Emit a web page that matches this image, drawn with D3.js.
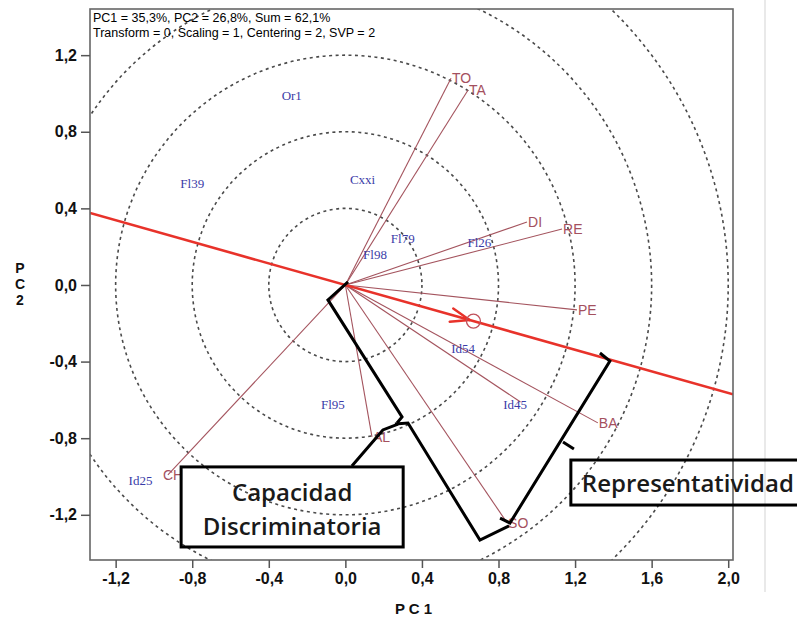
<!DOCTYPE html>
<html><head><meta charset="utf-8">
<script src="https://cdn.jsdelivr.net/npm/d3@7"></script>
<style>
body{margin:0;background:#fff;}
svg{display:block;}
</style></head>
<body>
<svg id="chart" width="797" height="624"></svg>
<script>
// ---- data ----
const xTicks = [-1.2, -0.8, -0.4, 0.0, 0.4, 0.8, 1.2, 1.6, 2.0];
const yTicks = [-1.2, -0.8, -0.4, 0.0, 0.4, 0.8, 1.2];
const circleRadii = [0.4, 0.8, 1.2, 1.6, 2.0];
const varNames = ["TO", "TA", "DI", "RE", "PE", "BA", "", "SO", "AL", "CH"];
const varPC1 = [0.552, 0.641, 0.949, 1.132, 1.210, 1.319, 0.915, 0.845, 0.139, -0.927];
const varPC2 = [1.080, 1.018, 0.329, 0.292, -0.130, -0.720, -0.611, -1.242, -0.793, -0.992];
const objNames = ["Or1", "Fl39", "Cxxi", "Fl79", "Fl98", "Fl26", "Id54", "Fl95", "Id45", "Id25"];
const objPC1 = [-0.28, -0.80, 0.09, 0.30, 0.155, 0.70, 0.615, -0.065, 0.887, -1.07];
const objPC2 = [0.99, 0.53, 0.55, 0.245, 0.160, 0.22, -0.334, -0.626, -0.626, -1.02];
const redAxisPC1 = [-1.334, 2.025];
const redAxisPC2 = [0.376, -0.571];
const header = ["PC1 = 35,3%, PC2 = 26,8%, Sum = 62,1%", "Transform = 0, Scaling = 1, Centering = 2, SVP = 2"];
// annotation brackets (data units)
const bracketA = [[0.014, 0.016], [-0.091, -0.078], [0.296, -0.689], [0.270, -0.721]];
const bracketB = [[0.259, -0.726], [0.327, -0.721], [0.703, -1.332], [0.855, -1.258]];
const calloutC = [[0.034, -0.945], [0.196, -0.757], [0.275, -0.726]];
const bracketD = [[1.330, -0.355], [1.382, -0.397], [0.860, -1.243], [0.808, -1.217]];
const tickD = [[1.137, -0.820], [1.194, -0.856]];
const boxLabels = [["Capacidad", "Discriminatoria"], ["Representatividad"]];

// ---- layout ----
const svg = d3.select("#chart");
const L = 90, R = 733, T = 9, B = 560;
const x = d3.scaleLinear().domain([-1.334, 2.025]).range([L, R]);
const y = d3.scaleLinear().domain([-1.436, 1.441]).range([B, T]);
const loc = d3.formatLocale({decimal: ",", thousands: ".", grouping: [3], currency: ["", ""], minus: "-"});
const fmt = loc.format(".1f");

svg.append("defs").append("clipPath").attr("id", "clip")
  .append("rect").attr("x", L).attr("y", T).attr("width", R - L).attr("height", B - T);

// faint page line at right
svg.append("line").attr("x1", 765).attr("x2", 765).attr("y1", 0).attr("y2", 592)
  .attr("stroke", "#e2e2e2").attr("stroke-width", 1.5);

const plot = svg.append("g").attr("clip-path", "url(#clip)");

// dashed circles
plot.selectAll("ellipse.c").data(circleRadii).enter().append("ellipse")
  .attr("cx", x(0)).attr("cy", y(0))
  .attr("rx", d => x(d) - x(0)).attr("ry", d => y(0) - y(d))
  .attr("fill", "none").attr("stroke", "#4a4a4a").attr("stroke-width", 1.6)
  .attr("stroke-dasharray", "3,3.5");

// variable vectors
const vars = varNames.map((n, i) => ({n, a: varPC1[i], b: varPC2[i]}));
plot.selectAll("line.v").data(vars).enter().append("line")
  .attr("x1", x(0)).attr("y1", y(0)).attr("x2", d => x(d.a)).attr("y2", d => y(d.b))
  .attr("stroke", "#a4545e").attr("stroke-width", 1.1);

// red axis line
plot.append("line")
  .attr("x1", x(redAxisPC1[0])).attr("y1", y(redAxisPC2[0]))
  .attr("x2", x(redAxisPC1[1])).attr("y2", y(redAxisPC2[1]))
  .attr("stroke", "#e8322a").attr("stroke-width", 2.6);

// red arrow & circle marker on the axis (at 0.669 along PC1)
const slope = (redAxisPC2[1] - redAxisPC2[0]) / (redAxisPC1[1] - redAxisPC1[0]);
const mx = 0.669, my = redAxisPC2[0] + slope * (mx - redAxisPC1[0]);
const ang = Math.atan2(y(my + slope * 0.1) - y(my), x(mx + 0.1) - x(mx));
const tipX = x(mx) - 4 * Math.cos(ang), tipY = y(my) - 4 * Math.sin(ang);
[0.34, -0.36].forEach(da => {
  plot.append("line").attr("x1", tipX).attr("y1", tipY)
    .attr("x2", tipX - 20 * Math.cos(ang + da)).attr("y2", tipY - 20 * Math.sin(ang + da))
    .attr("stroke", "#e8322a").attr("stroke-width", 2.4).attr("stroke-linecap", "round");
});
plot.append("circle").attr("cx", x(mx)).attr("cy", y(my)).attr("r", 7)
  .attr("fill", "none").attr("stroke", "#c0505a").attr("stroke-width", 1.3);

// variable labels
plot.selectAll("text.v").data(vars.filter(d => d.n)).enter().append("text")
  .attr("x", d => x(d.a) + (d.n === "CH" ? -5 : 1))
  .attr("y", d => y(d.b) + 5)
  .attr("font-family", "Liberation Sans, Arial, sans-serif").attr("font-size", 14)
  .attr("fill", "#a4505e").text(d => d.n);

// object labels
const objs = objNames.map((n, i) => ({n, a: objPC1[i], b: objPC2[i]}));
plot.selectAll("text.o").data(objs).enter().append("text")
  .attr("x", d => x(d.a)).attr("y", d => y(d.b) + 4.5)
  .attr("text-anchor", "middle")
  .attr("font-family", "Liberation Serif, Times New Roman, serif").attr("font-size", 13)
  .attr("fill", "#3a3ca8").text(d => d.n);

// frame
svg.append("rect").attr("x", L).attr("y", T).attr("width", R - L).attr("height", B - T)
  .attr("fill", "none").attr("stroke", "#666").attr("stroke-width", 1.6);

// axes
const xAxis = svg.append("g").attr("transform", `translate(0,${B})`)
  .call(d3.axisBottom(x).tickValues(xTicks).tickFormat(fmt).tickSize(8).tickPadding(5));
const yAxis = svg.append("g").attr("transform", `translate(${L},0)`)
  .call(d3.axisLeft(y).tickValues(yTicks).tickFormat(fmt).tickSize(9).tickPadding(4));
[xAxis, yAxis].forEach(g => {
  g.select(".domain").remove();
  g.selectAll(".tick line").attr("stroke", "#555").attr("stroke-width", 1.5);
  g.selectAll(".tick text").attr("font-family", "Liberation Sans, Arial, sans-serif")
    .attr("font-size", 16).attr("font-weight", "bold").attr("fill", "#111");
});

svg.append("text").attr("x", (L + R) / 2 + 2).attr("y", 614).attr("text-anchor", "middle")
  .attr("font-family", "Liberation Sans, Arial, sans-serif").attr("font-size", 15)
  .attr("font-weight", "bold").attr("fill", "#111").text("P C 1");
["P", "C", "2"].forEach((c, i) => {
  svg.append("text").attr("x", 20).attr("y", 273 + i * 16).attr("text-anchor", "middle")
    .attr("font-family", "Liberation Sans, Arial, sans-serif").attr("font-size", 14)
    .attr("font-weight", "bold").attr("fill", "#111").text(c);
});

// header
header.forEach((t, i) => {
  svg.append("text").attr("x", L + 3).attr("y", 22 + i * 14.5)
    .attr("font-family", "Liberation Sans, Arial, sans-serif").attr("font-size", 12.5)
    .attr("fill", "#000").text(t);
});

// annotation brackets
const line = d3.line().x(d => x(d[0])).y(d => y(d[1]));
[bracketA, bracketB, calloutC, bracketD, tickD].forEach(p => {
  svg.append("path").attr("d", line(p)).attr("fill", "none")
    .attr("stroke", "#000").attr("stroke-width", 3).attr("stroke-linejoin", "miter");
});

// boxes
const box1 = [[-0.858, -0.950], [0.302, -1.368]];
const box2 = [[1.178, -0.914], [2.45, -1.149]];
[box1, box2].forEach((b, i) => {
  svg.append("rect").attr("x", x(b[0][0])).attr("y", y(b[0][1]))
    .attr("width", x(b[1][0]) - x(b[0][0])).attr("height", y(b[1][1]) - y(b[0][1]))
    .attr("fill", "none").attr("stroke", "#000").attr("stroke-width", 3);
});
const bf = "Open Sans, Noto Sans, sans-serif";
boxLabels[0].forEach((t, i) => {
  svg.append("text").attr("x", (x(box1[0][0]) + x(box1[1][0])) / 2).attr("y", 501 + i * 34)
    .attr("text-anchor", "middle").attr("font-family", bf).attr("font-size", 24)
    .attr("font-weight", 600).attr("fill", "#1a1a1a").text(t);
});
svg.append("text").attr("x", x(box2[0][0]) + 11).attr("y", 492)
  .attr("font-family", bf).attr("font-size", 24).attr("font-weight", 600)
  .attr("fill", "#1a1a1a").text(boxLabels[1][0]);
</script>
</body></html>
